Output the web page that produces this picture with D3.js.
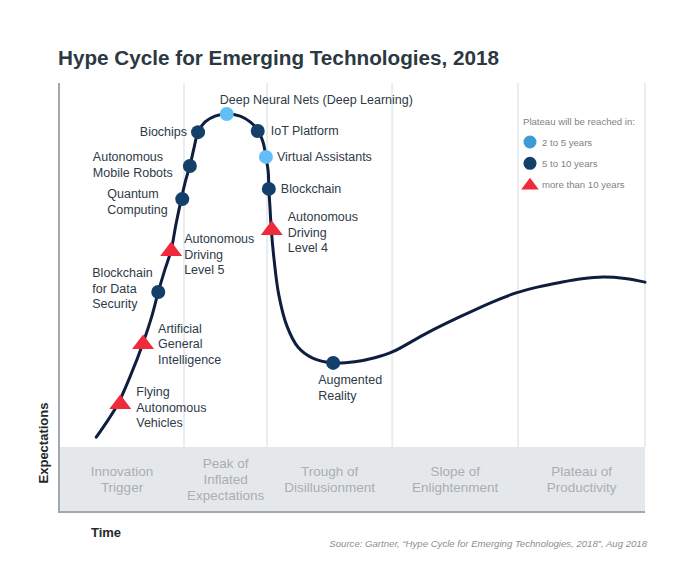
<!DOCTYPE html>
<html>
<head>
<meta charset="utf-8">
<script src="https://cdn.jsdelivr.net/npm/d3@7/dist/d3.min.js"></script>
<style>
  html, body { margin: 0; padding: 0; background: #ffffff; }
  svg { display: block; }
</style>
</head>
<body>
<svg id="chart" width="700" height="573"></svg>
<script>
// ---------- DATA ----------
const title = "Hype Cycle for Emerging Technologies, 2018";
const source = "Source: Gartner, \u201cHype Cycle for Emerging Technologies, 2018\u201d, Aug 2018";
const xAxisLabel = "Time";
const yAxisLabel = "Expectations";

// phase boundaries along the time axis (0-100)
const phaseBounds = [0, 21.2, 35.4, 56.8, 78.3, 100];
const phaseNames = [
  ["Innovation", "Trigger"],
  ["Peak of", "Inflated", "Expectations"],
  ["Trough of", "Disillusionment"],
  ["Slope of", "Enlightenment"],
  ["Plateau of", "Productivity"]
];

// hype curve (time, expectations)
const curveTime = [6.2, 8.2, 9.9, 12.1, 14.2, 15.6, 16.8, 17.9, 19.0, 19.8, 20.7, 21.5, 22.2, 22.9, 23.6, 24.8, 26.5, 28.5, 30.8, 32.5, 33.8, 34.7, 35.2, 35.6, 35.7, 35.9, 36.1, 36.6, 37.4, 38.8, 40.7, 43.1, 46.7, 50.4, 53.8, 56.8, 62.7, 68.4, 74.0, 78.1, 81.8, 85.5, 89.2, 92.8, 96.6, 100];
const curveExpect = [2.7, 7.4, 11.8, 19.8, 28.6, 35.4, 42.6, 48.6, 54.1, 61.0, 67.9, 73.4, 77.2, 82.1, 86.5, 89.3, 90.9, 91.5, 90.9, 89.3, 87.1, 83.8, 79.7, 75.5, 70.9, 65.7, 60.2, 51.4, 41.8, 33.2, 27.4, 24.5, 23.1, 23.4, 24.5, 26.1, 31.3, 35.8, 39.9, 42.4, 44.0, 45.2, 46.2, 46.7, 46.3, 45.3];

// technologies
const techNames = [
  "Flying Autonomous Vehicles", "Artificial General Intelligence", "Blockchain for Data Security",
  "Autonomous Driving Level 5", "Quantum Computing", "Autonomous Mobile Robots", "Biochips",
  "Deep Neural Nets (Deep Learning)", "IoT Platform", "Virtual Assistants", "Blockchain",
  "Autonomous Driving Level 4", "Augmented Reality"
];
const techLabelLines = [
  ["Flying", "Autonomous", "Vehicles"], ["Artificial", "General", "Intelligence"], ["Blockchain", "for Data", "Security"],
  ["Autonomous", "Driving", "Level 5"], ["Quantum", "Computing"], ["Autonomous", "Mobile Robots"], ["Biochips"],
  ["Deep Neural Nets (Deep Learning)"], ["IoT Platform"], ["Virtual Assistants"], ["Blockchain"],
  ["Autonomous", "Driving", "Level 4"], ["Augmented", "Reality"]
];
const techTime = [10.3, 14.2, 16.8, 19.0, 20.9, 22.2, 23.6, 28.5, 33.8, 35.2, 35.7, 36.2, 46.7];
const techExpect = [12.1, 28.6, 42.6, 54.1, 68.1, 77.2, 86.5, 91.5, 86.8, 79.7, 70.9, 59.9, 23.1];
// plateau category: "2-5", "5-10", "10+"
const techPlateau = ["10+", "10+", "5-10", "10+", "5-10", "5-10", "5-10", "2-5", "5-10", "2-5", "5-10", "10+", "5-10"];

const legendTitle = "Plateau will be reached in:";
const legendKeys = ["2-5", "5-10", "10+"];
const legendLabels = ["2 to 5 years", "5 to 10 years", "more than 10 years"];

// ---------- LAYOUT (label placement relative to markers) ----------
const labelLayout = [
  {dx: 16, dy: -7, anchor: "start"},
  {dx: 15, dy: -10, anchor: "start"},
  {dx: -66, dy: -15, anchor: "start"},
  {dx: 13, dy: -7, anchor: "start"},
  {dx: -75, dy: -1, anchor: "start"},
  {dx: -97, dy: -5, anchor: "start"},
  {dx: -11, dy: 4, anchor: "end"},
  {dx: -7, dy: -10, anchor: "start"},
  {dx: 13, dy: 4, anchor: "start"},
  {dx: 11, dy: 4, anchor: "start"},
  {dx: 12, dy: 4, anchor: "start"},
  {dx: 16, dy: -8, anchor: "start"},
  {dx: -15, dy: 21, anchor: "start"}
];

// ---------- DRAW ----------
const svg = d3.select("#chart");
const FONT = "'Liberation Sans', Arial, Helvetica, sans-serif";
const left = 60, right = 645, plotTop = 83, bandTop = 447, bottom = 512;

const x = d3.scaleLinear().domain([0, 100]).range([left, right]);
const y = d3.scaleLinear().domain([0, 100]).range([bandTop, bandTop - 364]);

// title
svg.append("text")
  .attr("x", 58).attr("y", 65)
  .attr("font-family", FONT).attr("font-weight", "bold").attr("font-size", 20.7)
  .attr("fill", "#2c3842")
  .text(title);

// phase band
svg.append("rect")
  .attr("x", left).attr("y", bandTop)
  .attr("width", right - left).attr("height", bottom - bandTop)
  .attr("fill", "#e5e8ea");

// gridlines (phase boundaries)
svg.append("g").selectAll("line")
  .data(phaseBounds.slice(1))
  .join("line")
  .attr("x1", d => x(d)).attr("x2", d => x(d))
  .attr("y1", plotTop).attr("y2", bandTop)
  .attr("stroke", "#e9edf0").attr("stroke-width", 2);

// phase labels
const phaseG = svg.append("g")
  .attr("font-family", FONT).attr("font-size", 13.5).attr("fill", "#a9aeb3")
  .attr("text-anchor", "middle");
phaseNames.forEach((lines, i) => {
  const cx = (x(phaseBounds[i]) + x(phaseBounds[i + 1])) / 2;
  const lh = 16;
  const startY = 479.5 - (lines.length - 1) * lh / 2 + 4.5;
  const t = phaseG.append("text").attr("x", cx).attr("y", startY);
  lines.forEach((ln, j) => {
    t.append("tspan").attr("x", cx).attr("y", startY + j * lh).text(ln);
  });
});

// axes lines
svg.append("line")
  .attr("x1", left - 1).attr("x2", left - 1)
  .attr("y1", plotTop).attr("y2", bottom + 1)
  .attr("stroke", "#a3a8ad").attr("stroke-width", 2);
svg.append("line")
  .attr("x1", left - 2).attr("x2", right)
  .attr("y1", bottom).attr("y2", bottom)
  .attr("stroke", "#a3a8ad").attr("stroke-width", 2);

// axis labels
svg.append("text")
  .attr("x", 106).attr("y", 537)
  .attr("text-anchor", "middle")
  .attr("font-family", FONT).attr("font-weight", "bold").attr("font-size", 13)
  .attr("fill", "#25282b")
  .text(xAxisLabel);
svg.append("text")
  .attr("transform", "translate(48,443) rotate(-90)")
  .attr("text-anchor", "middle")
  .attr("font-family", FONT).attr("font-weight", "bold").attr("font-size", 13)
  .attr("fill", "#25282b")
  .text(yAxisLabel);

// source
svg.append("text")
  .attr("x", 647).attr("y", 547)
  .attr("text-anchor", "end")
  .attr("font-family", FONT).attr("font-style", "italic").attr("font-size", 9.6)
  .attr("fill", "#8a8f94")
  .text(source);

// hype curve
const curveData = curveTime.map((t, i) => [t, curveExpect[i]]);
const line = d3.line()
  .x(d => x(d[0])).y(d => y(d[1]))
  .curve(d3.curveCatmullRom.alpha(0.5));
svg.append("path")
  .datum(curveData)
  .attr("d", line)
  .attr("fill", "none")
  .attr("stroke", "#0f1d3e")
  .attr("stroke-width", 3)
  .attr("stroke-linecap", "round");

// markers
const markerColor = {"2-5": "#62bff5", "5-10": "#143f6a", "10+": "#ee2a3b"};
const legendColor = {"2-5": "#3d9ad2", "5-10": "#143f6a", "10+": "#ee2a3b"};
const triPath = "M0,-8.5L11,6L-11,6Z";

function drawMarker(g, cat, cx, cy, r, colors, s) {
  if (cat === "10+") {
    g.append("path").attr("d", triPath)
      .attr("transform", `translate(${cx},${cy}) scale(${s})`)
      .attr("fill", colors[cat]);
  } else {
    g.append("circle").attr("cx", cx).attr("cy", cy).attr("r", r)
      .attr("fill", colors[cat]);
  }
}

const markG = svg.append("g");
const labelG = svg.append("g")
  .attr("font-family", FONT).attr("font-size", 12.5).attr("fill", "#2e3a47");

techNames.forEach((name, i) => {
  const cx = x(techTime[i]), cy = y(techExpect[i]);
  drawMarker(markG, techPlateau[i], cx, cy, 7, markerColor, 1);
  const lay = labelLayout[i];
  const lx = cx + lay.dx, ly = cy + lay.dy;
  const t = labelG.append("text")
    .attr("x", lx).attr("y", ly)
    .attr("text-anchor", lay.anchor);
  techLabelLines[i].forEach((ln, j) => {
    t.append("tspan").attr("x", lx).attr("y", ly + j * 15.6).text(ln);
  });
});

// legend
const legG = svg.append("g").attr("font-family", FONT);
legG.append("text")
  .attr("x", 523).attr("y", 125)
  .attr("font-size", 9.6).attr("fill", "#7d8388")
  .text(legendTitle);
legendKeys.forEach((k, i) => {
  const cy = 142 + i * 21.3;
  drawMarker(legG, k, 530, cy, 6.5, legendColor, 0.8);
  legG.append("text")
    .attr("x", 542).attr("y", cy + 3.5)
    .attr("font-size", 9.6).attr("fill", "#7d8388")
    .text(legendLabels[i]);
});
</script>
</body>
</html>
